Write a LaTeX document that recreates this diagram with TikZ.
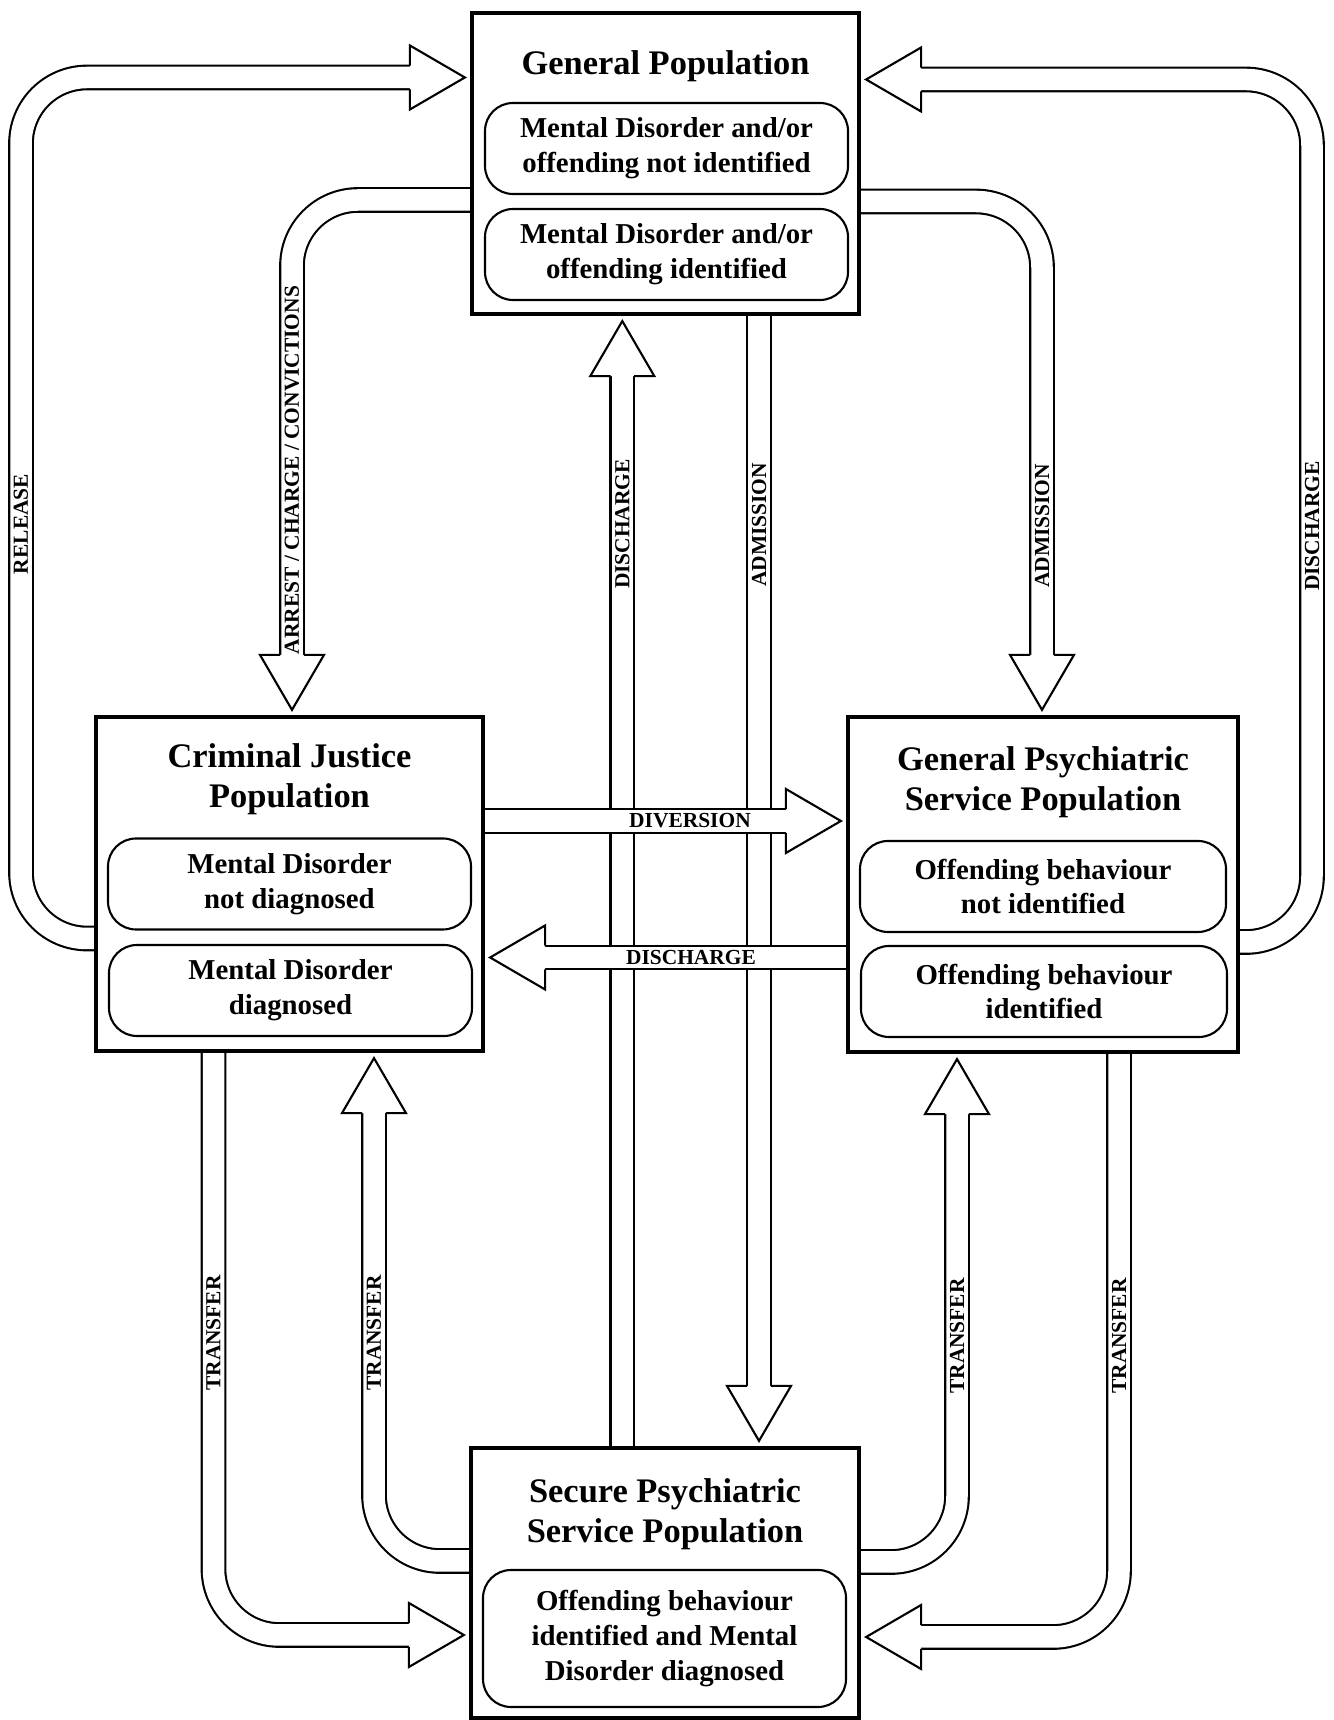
\documentclass[tikz,border=0pt]{standalone}
\usepackage{fontspec}
\setmainfont{Liberation Serif}
\usetikzlibrary{calc}

\tikzset{
  popbox/.style={draw, line width=1.2pt, fill=white, minimum width=3.87cm, inner sep=0pt},
  subbox/.style={draw, line width=0.6pt, rounded corners=0.28cm, minimum width=3.63cm, minimum height=0.91cm, align=center, inner sep=0pt, font=\bfseries\fontsize{8.2}{9.9}\selectfont, execute at begin node=\rule{0pt}{7.6pt}},
  poptitle/.style={align=center, inner sep=0pt, font=\bfseries\fontsize{9.8}{11.4}\selectfont},
  shaft/.style={double, double distance=0.215cm, line width=0.6pt, rounded corners=0.66cm, shorten >=0.6cm},
  lbl/.style={inner sep=0pt, font=\bfseries\fontsize{6.1}{7}\selectfont},
  flowhead/.pic={\draw[line width=0.6pt, fill=white, rounded corners=0pt] (-0.6,0.118) -- (-0.6,0.32) -- (-0.05,0) -- (-0.6,-0.32) -- (-0.6,-0.118);}
}

\begin{document}
\begin{tikzpicture}
\useasboundingbox (0,0) rectangle (13.34,17.2);

% population boxes
\node[popbox, minimum height=3.01cm] (gp) at (6.655,15.565) {};
\node[popbox, minimum height=3.34cm] (cj) at (2.895,8.36) {};
\node[popbox, minimum width=3.90cm, minimum height=3.35cm] (gps) at (10.43,8.355) {};
\node[popbox, minimum width=3.88cm, minimum height=2.70cm] (sps) at (6.65,1.37) {};

\node[poptitle] (gpt) at (6.655,16.54) {General Population};
\node[poptitle] (cjt) at (2.895,9.41) {Criminal Justice\\Population};
\node[poptitle] (gpst) at (10.43,9.38) {General Psychiatric\\Service Population};
\node[poptitle] (spst) at (6.65,2.06) {Secure Psychiatric\\Service Population};

\node[subbox] (gp1) at (6.665,15.715) {Mental Disorder and/or\\offending not identified};
\node[subbox] (gp2) at (6.665,14.655) {Mental Disorder and/or\\offending identified};
\node[subbox] (cj1) at (2.895,8.36) {Mental Disorder\\not diagnosed};
\node[subbox] (cj2) at (2.905,7.295) {Mental Disorder\\diagnosed};
\node[subbox, minimum width=3.66cm] (gps1) at (10.43,8.335) {Offending behaviour\\not identified};
\node[subbox, minimum width=3.66cm] (gps2) at (10.44,7.285) {Offending behaviour\\identified};
\node[subbox, minimum height=1.37cm] (sps1) at (6.645,0.815) {Offending behaviour\\identified and Mental\\Disorder diagnosed};

% middle arrows (drawn before the horizontal ones)
\draw[shaft] (sps.north -| 6.223,0) -- (gp.south -| 6.223,0);
\pic[rotate=90] at (gp.south -| 6.223,0) {flowhead};
\draw[shaft] (gp.south -| 7.59,0) -- (sps.north -| 7.59,0);
\pic[rotate=-90] at (sps.north -| 7.59,0) {flowhead};

% diversion / discharge
\draw[shaft] (cj.east |- 0,8.99) -- (gps.west |- 0,8.99);
\pic at (gps.west |- 0,8.99) {flowhead};
\draw[shaft] (gps.west |- 0,7.625) -- (cj.east |- 0,7.625);
\pic[rotate=180] at (cj.east |- 0,7.625) {flowhead};

% outer loops
\draw[shaft] (cj.west |- 0,7.815) -| (0.21,16.425) -- (gp.west |- 0,16.425);
\pic at (gp.west |- 0,16.425) {flowhead};
\draw[shaft] (gps.east |- 0,7.78) -| (13.12,16.405) -- (gp.east |- 0,16.405);
\pic[rotate=180] at (gp.east |- 0,16.405) {flowhead};

% into the criminal justice / psychiatric boxes
\draw[shaft] (gp.west |- 0,15.20) -| (cj.north -| 2.92,0);
\pic[rotate=-90] at (cj.north -| 2.92,0) {flowhead};
\draw[shaft] (gp.east |- 0,15.185) -| (gps.north -| 10.42,0);
\pic[rotate=-90] at (gps.north -| 10.42,0) {flowhead};

% transfers
\draw[shaft] (cj.south -| 2.135,0) |- (sps.west |- 0,0.85);
\pic at (sps.west |- 0,0.85) {flowhead};
\draw[shaft] (sps.west |- 0,1.59) -| (cj.south -| 3.74,0);
\pic[rotate=90] at (cj.south -| 3.74,0) {flowhead};
\draw[shaft] (sps.east |- 0,1.58) -| (gps.south -| 9.57,0);
\pic[rotate=90] at (gps.south -| 9.57,0) {flowhead};
\draw[shaft] (gps.south -| 11.19,0) |- (sps.east |- 0,0.83);
\pic[rotate=180] at (sps.east |- 0,0.83) {flowhead};

% labels
\node[lbl, rotate=90] (lrel) at (0.21,11.96) {RELEASE};
\node[lbl, rotate=90] (larr) at (2.92,12.50) {ARREST / CHARGE / CONVICTIONS};
\node[lbl, rotate=90] (ldis1) at (6.223,11.96) {DISCHARGE};
\node[lbl, rotate=90] (ladm1) at (7.59,11.95) {ADMISSION};
\node[lbl, rotate=90] (ladm2) at (10.42,11.94) {ADMISSION};
\node[lbl, rotate=90] (ldis2) at (13.12,11.94) {DISCHARGE};
\node[lbl] (ldiv) at (6.90,8.99) {DIVERSION};
\node[lbl] (ldis3) at (6.91,7.625) {DISCHARGE};
\node[lbl, rotate=90] (ltr1) at (2.135,3.87) {TRANSFER};
\node[lbl, rotate=90] (ltr2) at (3.74,3.87) {TRANSFER};
\node[lbl, rotate=90] (ltr3) at (9.57,3.84) {TRANSFER};
\node[lbl, rotate=90] (ltr4) at (11.19,3.84) {TRANSFER};
\end{tikzpicture}
\end{document}
